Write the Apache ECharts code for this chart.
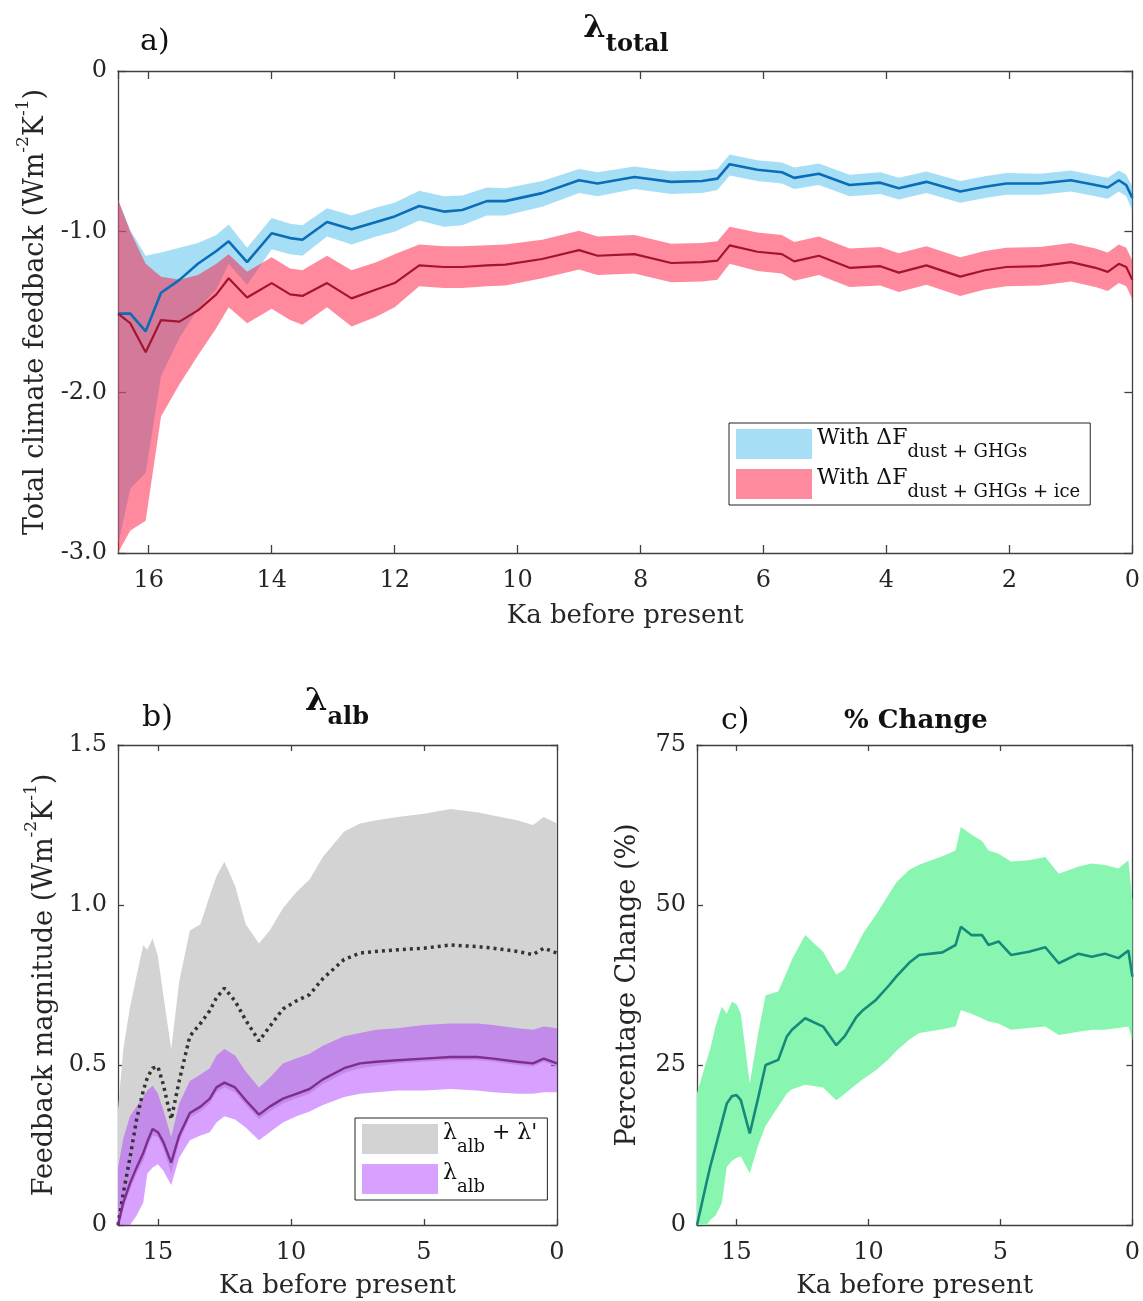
<!DOCTYPE html>
<html>
<head>
<meta charset="utf-8">
<script src="https://cdn.jsdelivr.net/npm/echarts@6/dist/echarts.min.js"></script>
<style>html,body{margin:0;padding:0;background:#fff}#c{width:1143px;height:1301px}</style>
</head>
<body>
<div id="c"></div>
<script>
// ---------- Panel a: total climate feedback ----------
const ageA = [16.5,16.3,16.05,15.8,15.5,15.2,14.9,14.7,14.4,14.0,13.7,13.5,13.1,12.7,12.3,12.0,11.6,11.2,10.9,10.5,10.2,9.6,9.0,8.7,8.1,7.5,7.0,6.75,6.55,6.1,5.7,5.5,5.1,4.6,4.1,3.8,3.35,2.8,2.4,2.05,1.5,1.0,0.6,0.4,0.22,0.1,0.0];
const blueMean = [-1.51,-1.51,-1.62,-1.38,-1.30,-1.20,-1.12,-1.06,-1.19,-1.01,-1.04,-1.05,-0.94,-0.985,-0.94,-0.905,-0.84,-0.875,-0.865,-0.81,-0.81,-0.76,-0.68,-0.70,-0.66,-0.69,-0.685,-0.67,-0.58,-0.615,-0.63,-0.665,-0.64,-0.71,-0.695,-0.73,-0.69,-0.75,-0.72,-0.70,-0.70,-0.68,-0.71,-0.725,-0.68,-0.71,-0.79];
const blueHi = [-0.80,-0.99,-1.15,-1.13,-1.10,-1.07,-1.02,-0.955,-1.10,-0.915,-0.95,-0.96,-0.855,-0.90,-0.85,-0.82,-0.745,-0.78,-0.775,-0.725,-0.73,-0.685,-0.61,-0.63,-0.595,-0.625,-0.62,-0.61,-0.52,-0.555,-0.57,-0.60,-0.575,-0.645,-0.63,-0.665,-0.625,-0.685,-0.655,-0.635,-0.64,-0.62,-0.65,-0.665,-0.62,-0.645,-0.72];
const blueLo = [-2.95,-2.60,-2.50,-1.90,-1.66,-1.48,-1.36,-1.20,-1.33,-1.11,-1.14,-1.15,-1.03,-1.08,-1.03,-1.00,-0.93,-0.97,-0.96,-0.90,-0.90,-0.845,-0.76,-0.78,-0.735,-0.765,-0.76,-0.74,-0.65,-0.685,-0.70,-0.735,-0.71,-0.78,-0.765,-0.80,-0.76,-0.82,-0.79,-0.77,-0.77,-0.75,-0.78,-0.795,-0.75,-0.78,-0.87];
const redMean = [-1.51,-1.57,-1.75,-1.55,-1.56,-1.49,-1.39,-1.29,-1.41,-1.32,-1.39,-1.40,-1.32,-1.415,-1.36,-1.32,-1.21,-1.22,-1.22,-1.21,-1.205,-1.17,-1.115,-1.15,-1.14,-1.195,-1.19,-1.18,-1.085,-1.125,-1.14,-1.185,-1.15,-1.225,-1.215,-1.255,-1.21,-1.28,-1.24,-1.22,-1.215,-1.19,-1.225,-1.25,-1.20,-1.22,-1.30];
const redHi = [-0.80,-1.00,-1.20,-1.28,-1.30,-1.27,-1.20,-1.14,-1.25,-1.16,-1.23,-1.24,-1.15,-1.24,-1.19,-1.14,-1.08,-1.09,-1.09,-1.085,-1.08,-1.05,-0.995,-1.03,-1.02,-1.075,-1.07,-1.06,-0.97,-1.005,-1.02,-1.065,-1.03,-1.105,-1.095,-1.135,-1.09,-1.16,-1.12,-1.10,-1.095,-1.07,-1.105,-1.13,-1.08,-1.10,-1.18];
const redLo = [-3.0,-2.86,-2.80,-2.15,-1.95,-1.77,-1.60,-1.47,-1.57,-1.48,-1.55,-1.58,-1.47,-1.59,-1.53,-1.47,-1.34,-1.35,-1.35,-1.34,-1.335,-1.29,-1.235,-1.27,-1.26,-1.315,-1.31,-1.30,-1.20,-1.245,-1.26,-1.305,-1.27,-1.345,-1.335,-1.375,-1.33,-1.40,-1.36,-1.34,-1.335,-1.31,-1.345,-1.37,-1.32,-1.34,-1.42];

// ---------- Panel b: albedo feedback ----------
const ageB = [16.5,16.3,16.05,15.8,15.55,15.4,15.2,15.0,14.8,14.5,14.2,13.8,13.4,13.05,12.8,12.5,12.1,11.7,11.2,10.8,10.3,9.8,9.3,8.8,8.0,7.4,6.8,6.0,5.0,4.0,3.0,2.4,1.5,0.9,0.5,0.0];
const grayHi = [0.36,0.55,0.68,0.78,0.875,0.86,0.895,0.84,0.72,0.55,0.76,0.92,0.94,1.03,1.09,1.135,1.06,0.94,0.88,0.92,0.99,1.04,1.08,1.15,1.23,1.255,1.265,1.275,1.285,1.30,1.29,1.28,1.265,1.25,1.275,1.255];
const grayMean = [0.0,0.10,0.21,0.33,0.42,0.46,0.49,0.495,0.44,0.33,0.45,0.59,0.63,0.67,0.71,0.74,0.70,0.64,0.575,0.62,0.675,0.70,0.72,0.77,0.83,0.85,0.855,0.86,0.865,0.875,0.87,0.865,0.855,0.845,0.865,0.85];
const grayLo = [0.0,0.05,0.11,0.16,0.20,0.24,0.28,0.275,0.24,0.16,0.26,0.335,0.355,0.38,0.415,0.43,0.415,0.375,0.33,0.355,0.38,0.395,0.41,0.44,0.475,0.49,0.497,0.505,0.51,0.515,0.515,0.51,0.50,0.495,0.51,0.495];
const purpleMean = [0.0,0.07,0.13,0.18,0.225,0.26,0.30,0.29,0.26,0.195,0.28,0.35,0.37,0.395,0.43,0.445,0.43,0.39,0.345,0.37,0.395,0.41,0.425,0.455,0.49,0.505,0.51,0.515,0.52,0.525,0.525,0.52,0.51,0.505,0.52,0.505];
const purpleHi = [0.18,0.27,0.34,0.37,0.40,0.42,0.435,0.41,0.36,0.275,0.38,0.45,0.47,0.49,0.53,0.55,0.53,0.48,0.43,0.46,0.505,0.52,0.535,0.56,0.59,0.60,0.61,0.615,0.625,0.63,0.63,0.625,0.615,0.61,0.62,0.615];
const purpleLo = [0.0,0.0,0.0,0.03,0.07,0.16,0.18,0.19,0.17,0.125,0.21,0.265,0.28,0.29,0.32,0.34,0.33,0.305,0.265,0.29,0.32,0.34,0.355,0.375,0.40,0.41,0.415,0.42,0.42,0.425,0.42,0.415,0.41,0.41,0.415,0.415];

// ---------- Panel c: percentage change ----------
const ageC = [16.5,16.13,16.0,15.8,15.56,15.37,15.18,15.0,14.84,14.5,14.18,13.9,13.42,13.1,12.9,12.4,11.72,11.22,10.9,10.46,10.2,9.71,9.21,8.95,8.45,8.08,7.2,6.7,6.5,6.1,5.7,5.45,5.07,4.6,3.92,3.3,2.79,2.04,1.54,1.04,0.53,0.15,0.0];
const greenMean = [0,6.8,9.1,12.2,16.0,19.0,20.1,20.3,19.5,14.3,19.9,25.0,25.8,29.4,30.5,32.3,31.0,28.1,29.5,32.5,33.6,35.2,37.5,38.8,41.0,42.2,42.6,43.75,46.6,45.3,45.3,43.75,44.3,42.2,42.7,43.4,40.9,42.4,41.9,42.4,41.7,42.9,38.8];
const greenHi = [20.6,25.8,27.5,31.0,34.1,33.0,34.9,34.5,33.0,22.1,30.0,35.9,36.5,39.5,41.5,45.3,42.7,39.1,40.0,43.5,45.6,48.5,51.8,53.5,55.5,56.3,57.6,58.5,62.2,61.0,60.0,58.5,58.0,56.8,57.0,57.5,54.9,56.0,56.5,56.25,55.7,57.0,50.8];
const greenLo = [0,0,0.8,1.5,3.4,9.1,10.0,10.5,10.7,8.1,12.5,15.5,18.5,20.5,21.2,21.9,21.5,19.5,20.5,22.0,22.8,24.2,26.0,27.2,29.0,30.0,30.6,31.0,33.6,33.0,32.3,31.8,31.5,30.5,30.8,31.0,29.7,30.2,30.5,30.5,30.8,31.0,28.9];

// ---------- Tick labels ----------
const yTicksA = [-3, -2, -1, 0];
const yTickLabelsA = ['-3.0', '-2.0', '-1.0', '0'];
const yTicksB = [0, 0.5, 1, 1.5];
const yTickLabelsB = ['0', '0.5', '1.0', '1.5'];
const yTicksC = [0, 25, 50, 75];
const yTickLabelsC = ['0', '25', '50', '75'];

const FONT = "'DejaVu Serif', serif";
const AXC = '#404040';
const TXT = '#262626';

function lookup(ticks, labels) {
  return v => { for (let i = 0; i < ticks.length; i++) if (Math.abs(v - ticks[i]) < 1e-9) return labels[i]; return ''; };
}

function xAxes(grid, interval, tickLen, nameGap, name) {
  const base = {
    gridIndex: grid, type: 'value', inverse: true, min: 0, max: 16.5, interval: interval,
    axisLine: { show: true, onZero: false, lineStyle: { color: AXC, width: 1.3 } },
    axisTick: { show: true, inside: true, length: tickLen, lineStyle: { color: AXC, width: 1.3 } },
    splitLine: { show: false }
  };
  return [
    Object.assign({}, base, {
      position: 'bottom',
      axisLabel: { show: true, margin: 16, fontFamily: FONT, fontSize: 24, color: TXT, showMaxLabel: false },
      name: name, nameLocation: 'middle', nameGap: nameGap,
      nameTextStyle: { fontFamily: FONT, fontSize: 26, color: TXT }
    }),
    Object.assign({}, base, { position: 'top', axisLabel: { show: false } })
  ];
}

function yAxes(grid, min, max, interval, tickLen, fmt, nameGap, nameRich) {
  const base = {
    gridIndex: grid, type: 'value', min: min, max: max, interval: interval,
    axisLine: { show: true, onZero: false, lineStyle: { color: AXC, width: 1.3 } },
    axisTick: { show: true, inside: true, length: tickLen, lineStyle: { color: AXC, width: 1.3 } },
    splitLine: { show: false }
  };
  return [
    Object.assign({}, base, {
      position: 'left',
      axisLabel: { show: true, margin: 11, fontFamily: FONT, fontSize: 24, color: TXT, formatter: fmt },
      name: nameRich, nameLocation: 'middle', nameGap: nameGap,
      nameTextStyle: {
        fontFamily: FONT, fontSize: 27, color: TXT,
        rich: {
          n: { fontFamily: FONT, fontSize: 27, color: TXT, verticalAlign: 'bottom', padding: [8, 0, 0, 0] },
          sup: { fontFamily: FONT, fontSize: 17, color: TXT, verticalAlign: 'top' }
        }
      }
    }),
    Object.assign({}, base, { position: 'right', axisLabel: { show: false } })
  ];
}

function band(name, xi, yi, xs, hi, lo, color, z) {
  return {
    name: name, type: 'custom', xAxisIndex: xi, yAxisIndex: yi, clip: true, z: z,
    itemStyle: { color: color },
    data: xs.map((x, i) => [x, hi[i], lo[i]]),
    encode: { x: 0, y: [1, 2] },
    silent: true,
    renderItem: function (params, api) {
      if (params.dataIndex !== 0) return null;
      const pts = [];
      for (let i = 0; i < xs.length; i++) pts.push(api.coord([xs[i], hi[i]]));
      for (let i = xs.length - 1; i >= 0; i--) pts.push(api.coord([xs[i], lo[i]]));
      return { type: 'polygon', shape: { points: pts }, style: { fill: color } };
    }
  };
}

function line(name, xi, yi, xs, ys, color, width, type, z) {
  return {
    name: name, type: 'line', xAxisIndex: xi, yAxisIndex: yi, z: z,
    data: xs.map((x, i) => [x, ys[i]]),
    showSymbol: false, symbol: 'none', silent: true, clip: true,
    lineStyle: { color: color, width: width, type: type || 'solid' },
    itemStyle: { color: color }
  };
}

const legendNames = {
  'With ΔF dust + GHGs': '{m|With ΔF}{sub|dust + GHGs}',
  'With ΔF dust + GHGs + ice': '{m|With ΔF}{sub|dust + GHGs + ice}',
  "λalb + λ'": "{m|λ}{sub|alb}{m| + λ'}",
  'λalb': '{m|λ}{sub|alb}'
};
const legendRich = {
  m: { fontFamily: FONT, fontSize: 22, color: '#111', verticalAlign: 'top' },
  sub: { fontFamily: FONT, fontSize: 18, color: '#111', verticalAlign: 'bottom', padding: [16, 0, 0, 0] }
};

const chart = echarts.init(document.getElementById('c'), null, { renderer: 'canvas' });
chart.setOption({
  animation: false,
  backgroundColor: '#fff',
  grid: [
    { left: 118, top: 71, width: 1016, height: 482 },
    { left: 118, top: 745, width: 439, height: 480 },
    { left: 697, top: 745, width: 437, height: 480 }
  ],
  xAxis: [].concat(
    xAxes(0, 2, 8, 50, 'Ka before present'),
    xAxes(1, 5, 6, 48, 'Ka before present'),
    xAxes(2, 5, 6, 48, 'Ka before present')
  ),
  yAxis: [].concat(
    yAxes(0, -3, 0, 1, 8, lookup(yTicksA, yTickLabelsA), 62, '{n|Total climate feedback (Wm}{sup|-2}{n|K}{sup|-1}{n|)}'),
    yAxes(1, 0, 1.5, 0.5, 6, lookup(yTicksB, yTickLabelsB), 60, '{n|Feedback magnitude (Wm}{sup|-2}{n|K}{sup|-1}{n|)}'),
    yAxes(2, 0, 75, 25, 6, lookup(yTicksC, yTickLabelsC), 56, '{n|Percentage Change (%)}')
  ),
  legend: [
    {
      data: ['With ΔF dust + GHGs', 'With ΔF dust + GHGs + ice'],
      orient: 'vertical', left: 729, top: 423,
      itemWidth: 76, itemHeight: 30, itemGap: 6, icon: 'rect',
      padding: [4, 10, 4, 7], borderColor: '#222', borderWidth: 1, backgroundColor: '#fff',
      selectedMode: false,
      formatter: n => legendNames[n],
      textStyle: { rich: legendRich }
    },
    {
      data: ["λalb + λ'", 'λalb'],
      orient: 'vertical', left: 355, top: 1118,
      itemWidth: 76, itemHeight: 30, itemGap: 6, icon: 'rect',
      padding: [4, 10, 4, 7], borderColor: '#222', borderWidth: 1, backgroundColor: '#fff',
      selectedMode: false,
      formatter: n => legendNames[n],
      textStyle: { rich: legendRich }
    }
  ],
  graphic: [
    { type: 'text', x: 140, y: 27, style: { text: 'a)', fontFamily: FONT, fontSize: 30, fill: '#111' } },
    { type: 'text', x: 626, y: 13, style: { text: '{l|λ}{s|total}', textAlign: 'center', align: 'center',
      rich: { l: { fontFamily: FONT, fontSize: 32, fontWeight: 'bold', fill: '#111', color: '#111', verticalAlign: 'top' },
              s: { fontFamily: FONT, fontSize: 24, fontWeight: 'bold', fill: '#111', color: '#111', verticalAlign: 'bottom', padding: [20, 0, 0, 0] } } } },
    { type: 'text', x: 142, y: 703, style: { text: 'b)', fontFamily: FONT, fontSize: 30, fill: '#111' } },
    { type: 'text', x: 337, y: 686, style: { text: '{l|λ}{s|alb}', textAlign: 'center', align: 'center',
      rich: { l: { fontFamily: FONT, fontSize: 32, fontWeight: 'bold', fill: '#111', color: '#111', verticalAlign: 'top' },
              s: { fontFamily: FONT, fontSize: 24, fontWeight: 'bold', fill: '#111', color: '#111', verticalAlign: 'bottom', padding: [20, 0, 0, 0] } } } },
    { type: 'text', x: 721, y: 706, style: { text: 'c)', fontFamily: FONT, fontSize: 30, fill: '#111' } },
    { type: 'text', x: 916, y: 708, style: { text: '% Change', textAlign: 'center', align: 'center', fontFamily: FONT, fontSize: 26, fontWeight: 'bold', fill: '#111' } }
  ],
  series: [
    band('With ΔF dust + GHGs', 0, 0, ageA, blueHi, blueLo, 'rgba(77,190,238,0.5)', 1),
    band('With ΔF dust + GHGs + ice', 0, 0, ageA, redHi, redLo, 'rgba(255,20,60,0.5)', 2),
    line('blue mean', 0, 0, ageA, blueMean, '#0b6cb8', 2.6, 'solid', 3),
    line('red mean', 0, 0, ageA, redMean, '#a2142f', 2.2, 'solid', 4),

    band("λalb + λ'", 2, 2, ageB, grayHi, grayLo, '#d3d3d3', 1),
    band('λalb', 2, 2, ageB, purpleHi, purpleLo, 'rgba(177,65,255,0.5)', 2),
    line('gray mean', 2, 2, ageB, grayMean, '#333333', 3.5, [3, 4], 3),
    line('purple mean', 2, 2, ageB, purpleMean, '#7e2f8e', 2.4, 'solid', 4),

    band('pct band', 4, 4, ageC, greenHi, greenLo, '#88f5b0', 1),
    line('pct mean', 4, 4, ageC, greenMean, '#16897a', 2.6, 'solid', 3)
  ]
});
</script>
</body>
</html>
